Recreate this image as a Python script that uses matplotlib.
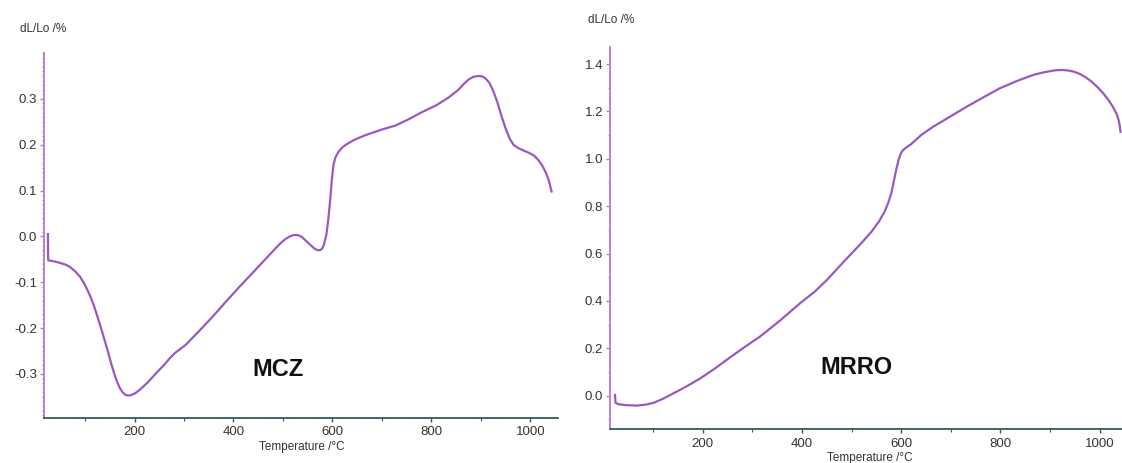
import matplotlib
matplotlib.use("Agg")
import matplotlib.pyplot as plt
from matplotlib.ticker import MultipleLocator, FormatStrFormatter

plt.rcParams['font.family'] = ['Liberation Sans', 'DejaVu Sans']
plt.rcParams['axes.unicode_minus'] = False

LINE_COLOR = '#9a58c2'
YSPINE_COLOR = '#b47ad6'
XSPINE_COLOR = '#2f5c5c'
TEXT_COLOR = '#333333'

# dilatometer curves: temperature (C) vs dL/Lo (%)
mcz_temp = [25, 25.5, 40, 50, 62, 70, 80, 90, 100, 110, 118, 126, 136, 146, 152, 158,
            164, 170, 176, 182, 190, 200, 210, 227, 244, 260, 272, 282, 292, 304, 330,
            358, 385, 412, 440, 466, 486, 496, 506, 514, 522, 530, 538, 546, 555, 563,
            570, 575, 579, 583, 588, 592, 596, 599, 602, 606, 612, 620, 630, 645, 667,
            700, 728, 755, 781, 810, 835, 855, 865, 875, 885, 895, 903, 910, 918, 926,
            934, 942, 950, 958, 966, 975, 985, 998, 1008, 1016, 1024, 1032, 1038, 1043]
mcz_dl = [0.005, -0.052, -0.055, -0.058, -0.062, -0.067, -0.076, -0.088, -0.106, -0.129,
          -0.151, -0.178, -0.213, -0.250, -0.274, -0.296, -0.315, -0.330, -0.340, -0.346,
          -0.347, -0.343, -0.335, -0.318, -0.298, -0.280, -0.265, -0.254, -0.246, -0.236,
          -0.207, -0.175, -0.142, -0.110, -0.078, -0.048, -0.025, -0.014, -0.005, 0.000,
          0.003, 0.003, -0.001, -0.009, -0.018, -0.026, -0.030, -0.030, -0.027, -0.018,
          0.005, 0.040, 0.085, 0.125, 0.155, 0.172, 0.184, 0.194, 0.202, 0.211, 0.221,
          0.233, 0.242, 0.256, 0.271, 0.286, 0.303, 0.320, 0.332, 0.342, 0.348, 0.350,
          0.349, 0.344, 0.334, 0.315, 0.291, 0.262, 0.236, 0.214, 0.200, 0.193, 0.188,
          0.182, 0.176, 0.167, 0.155, 0.138, 0.120, 0.098]

mrro_temp = [23, 24, 30, 45, 67, 85, 101, 120, 141, 168, 195, 222, 248, 280, 315, 355,
             396, 425, 450, 475, 497, 520, 540, 555, 566, 574, 580, 585, 590, 595, 599,
             603, 610, 620, 640, 664, 700, 732, 766, 799, 835, 866, 885, 900, 912, 924,
             936, 948, 960, 972, 984, 996, 1007, 1017, 1026, 1034, 1039, 1042]
mrro_dl = [0.003, -0.030, -0.036, -0.040, -0.042, -0.038, -0.030, -0.013, 0.010, 0.040,
           0.073, 0.111, 0.151, 0.199, 0.249, 0.316, 0.390, 0.438, 0.488, 0.545, 0.594,
           0.645, 0.692, 0.735, 0.775, 0.815, 0.855, 0.905, 0.955, 0.998, 1.022, 1.035,
           1.048, 1.062, 1.100, 1.135, 1.180, 1.220, 1.260, 1.298, 1.330, 1.354, 1.364,
           1.370, 1.374, 1.375, 1.373, 1.368, 1.358, 1.344, 1.325, 1.302, 1.277, 1.250,
           1.222, 1.190, 1.158, 1.114]

fig = plt.figure(figsize=(11.22, 4.63), dpi=100)


def style_axes(ax, xlim, ylim, ymajor, yminor):
    ax.set_xlim(*xlim)
    ax.set_ylim(*ylim)
    for side in ('top', 'right'):
        ax.spines[side].set_visible(False)
    ax.spines['left'].set_color(YSPINE_COLOR)
    ax.spines['left'].set_linewidth(1.3)
    ax.spines['bottom'].set_color(XSPINE_COLOR)
    ax.spines['bottom'].set_linewidth(1.3)
    ax.xaxis.set_major_locator(MultipleLocator(200))
    ax.xaxis.set_minor_locator(MultipleLocator(100))
    ax.yaxis.set_major_locator(MultipleLocator(ymajor))
    ax.yaxis.set_minor_locator(MultipleLocator(yminor))
    ax.yaxis.set_major_formatter(FormatStrFormatter('%.1f'))
    ax.tick_params(axis='y', which='major', length=3, width=1, color=YSPINE_COLOR,
                   labelsize=9.5, labelcolor=TEXT_COLOR, pad=2)
    ax.tick_params(axis='y', which='minor', length=1.5, width=0.8, color=YSPINE_COLOR)
    ax.tick_params(axis='x', which='major', length=3, width=1, color=XSPINE_COLOR,
                   labelsize=9.5, labelcolor=TEXT_COLOR, pad=3)
    ax.tick_params(axis='x', which='minor', length=2, width=0.8, color=XSPINE_COLOR)


ax1 = fig.add_axes([0.0392, 0.0972, 0.4581, 0.7883])
style_axes(ax1, (17, 1056), (-0.396, 0.4), 0.1, 0.01)
ax1.plot(mcz_temp, mcz_dl, color=LINE_COLOR, lw=1.6)
ax1.set_yticks([-0.3, -0.2, -0.1, 0.0, 0.1, 0.2, 0.3])

ax2 = fig.add_axes([0.5437, 0.0728, 0.4563, 0.8257])
style_axes(ax2, (13, 1045), (-0.142, 1.472), 0.2, 0.1)
ax2.plot(mrro_temp, mrro_dl, color=LINE_COLOR, lw=1.6)
ax2.set_yticks([0.0, 0.2, 0.4, 0.6, 0.8, 1.0, 1.2, 1.4])

# axis titles drawn as free text like the instrument software export
fig.text(20 / 1122, 1 - 29 / 463, 'dL/Lo /%', fontsize=8.5, color=TEXT_COLOR,
         va='center', ha='left')
fig.text(588 / 1122, 1 - 20 / 463, 'dL/Lo /%', fontsize=8.5, color=TEXT_COLOR,
         va='center', ha='left')
fig.text(302 / 1122, 1 - 447 / 463, 'Temperature /\u00b0C', fontsize=8.5,
         color=TEXT_COLOR, va='center', ha='center')
fig.text(870 / 1122, 1 - 458 / 463, 'Temperature /\u00b0C', fontsize=8.5,
         color=TEXT_COLOR, va='center', ha='center')

# sample names
fig.text(278 / 1122, 1 - 370 / 463, 'MCZ', fontsize=17, fontweight='bold',
         color='#111111', va='center', ha='center')
fig.text(856 / 1122, 1 - 368 / 463, 'MRRO', fontsize=17, fontweight='bold',
         color='#111111', va='center', ha='center')

fig.savefig('out.png', dpi=100)
